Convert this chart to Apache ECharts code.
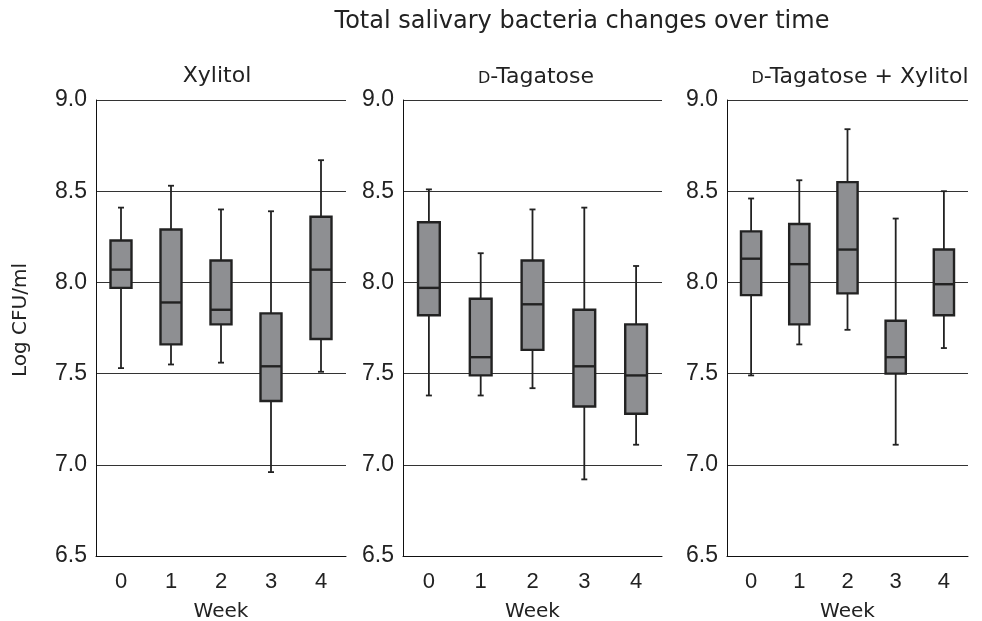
<!DOCTYPE html>
<html>
<head>
<meta charset="utf-8">
<script src="https://cdn.jsdelivr.net/npm/echarts@6/dist/echarts.min.js"></script>
<style>
html,body{margin:0;padding:0;background:#fff;}
#chart{width:982px;height:621px;}
</style>
</head>
<body>
<div id="chart"></div>
<script>
// ---- data (box stats: [min, Q1, median, Q3, max]) ----
const weeks = ['0', '1', '2', '3', '4'];
const yTicks = [6.5, 7.0, 7.5, 8.0, 8.5, 9.0];
const panelTitles = ['Xylitol', '{sc|D}-Tagatose', '{sc|D}-Tagatose + Xylitol'];
const xylitol = [
  [7.53, 7.97, 8.07, 8.23, 8.41],
  [7.55, 7.66, 7.89, 8.29, 8.53],
  [7.56, 7.77, 7.85, 8.12, 8.40],
  [6.96, 7.35, 7.54, 7.83, 8.39],
  [7.51, 7.69, 8.07, 8.36, 8.67]
];
const tagatose = [
  [7.38, 7.82, 7.97, 8.33, 8.51],
  [7.38, 7.49, 7.59, 7.91, 8.16],
  [7.42, 7.63, 7.88, 8.12, 8.40],
  [6.92, 7.32, 7.54, 7.85, 8.41],
  [7.11, 7.28, 7.49, 7.77, 8.09]
];
const tagatoseXylitol = [
  [7.49, 7.93, 8.13, 8.28, 8.46],
  [7.66, 7.77, 8.10, 8.32, 8.56],
  [7.74, 7.94, 8.18, 8.55, 8.84],
  [7.11, 7.50, 7.59, 7.79, 8.35],
  [7.64, 7.82, 7.99, 8.18, 8.50]
];
const groups = [xylitol, tagatose, tagatoseXylitol];

// ---- layout ----
const grids = [
  {left: 96, top: 100, width: 250, height: 456, containLabel: false, outerBoundsMode: 'none'},
  {left: 403, top: 100, width: 259, height: 456, containLabel: false, outerBoundsMode: 'none'},
  {left: 727, top: 100, width: 241, height: 456, containLabel: false, outerBoundsMode: 'none'}
];
const titleCenters = [[217, 76], [536, 77], [860, 77]];

const STROKE = '#222';
const FILL = '#8e8f92';

function renderBox(params, api) {
  const x = api.value(0);
  const lo = api.coord([x, api.value(1)]);
  const q1 = api.coord([x, api.value(2)]);
  const md = api.coord([x, api.value(3)]);
  const q3 = api.coord([x, api.value(4)]);
  const hi = api.coord([x, api.value(5)]);
  const band = api.size([1, 0])[0];
  const bw = band * 0.42;
  const cx = lo[0];
  const cap = 3;
  const wStyle = {stroke: STROKE, lineWidth: 1.8};
  return {
    type: 'group',
    children: [
      {type: 'line', shape: {x1: cx, y1: hi[1], x2: cx, y2: q3[1]}, style: wStyle},
      {type: 'line', shape: {x1: cx, y1: q1[1], x2: cx, y2: lo[1]}, style: wStyle},
      {type: 'line', shape: {x1: cx - cap, y1: hi[1], x2: cx + cap, y2: hi[1]}, style: wStyle},
      {type: 'line', shape: {x1: cx - cap, y1: lo[1], x2: cx + cap, y2: lo[1]}, style: wStyle},
      {type: 'rect', shape: {x: cx - bw / 2, y: q3[1], width: bw, height: q1[1] - q3[1]},
        style: {fill: FILL, stroke: STROKE, lineWidth: 2.4}},
      {type: 'line', shape: {x1: cx - bw / 2, y1: md[1], x2: cx + bw / 2, y2: md[1]},
        style: {stroke: STROKE, lineWidth: 2.4}}
    ]
  };
}

const option = {
  animation: false,
  backgroundColor: '#fff',
  grid: grids,
  xAxis: grids.map((g, i) => ({
    type: 'category',
    gridIndex: i,
    data: weeks,
    boundaryGap: true,
    axisLine: {show: true, lineStyle: {color: '#111', width: 1}},
    axisTick: {show: false},
    axisLabel: {fontFamily: 'Liberation Sans', fontSize: 22, color: '#222', margin: 15},
    name: 'Week',
    nameLocation: 'middle',
    nameGap: 46,
    nameTextStyle: {fontFamily: 'DejaVu Sans', fontSize: 20, color: '#222'},
    splitLine: {show: false}
  })),
  yAxis: grids.map((g, i) => ({
    type: 'value',
    gridIndex: i,
    min: yTicks[0],
    max: yTicks[yTicks.length - 1],
    interval: 0.5,
    axisLine: {show: true, lineStyle: {color: '#111', width: 1}},
    axisTick: {show: false},
    axisLabel: {fontFamily: 'Liberation Sans', fontSize: 23, color: '#222', margin: 9,
      formatter: v => v.toFixed(1)},
    splitLine: {show: true, lineStyle: {color: '#333', width: 1}}
  })),
  graphic: [
    {type: 'text', x: 582, y: 22,
      style: {text: 'Total salivary bacteria changes over time', fill: '#222',
        font: '24px "DejaVu Sans"', textAlign: 'center', textVerticalAlign: 'middle'}},
    {type: 'text', x: 21, y: 320, rotation: Math.PI / 2,
      style: {text: 'Log CFU/ml', fill: '#222',
        font: '20px "DejaVu Sans"', textAlign: 'center', textVerticalAlign: 'middle'}}
  ].concat(panelTitles.map((t, i) => ({
    type: 'text', x: titleCenters[i][0], y: titleCenters[i][1],
    style: {text: t, fill: '#222', font: '22px "DejaVu Sans"',
      fontFamily: 'DejaVu Sans', fontSize: 22,
      textAlign: 'center', textVerticalAlign: 'middle',
      rich: {sc: {fontFamily: 'DejaVu Sans', fontSize: 16, fill: '#222', verticalAlign: 'bottom', padding: [0, 0, 1, 0]}}}
  }))),
  series: groups.map((grp, i) => ({
    type: 'custom',
    xAxisIndex: i,
    yAxisIndex: i,
    renderItem: renderBox,
    encode: {x: 0, y: [1, 2, 3, 4, 5]},
    data: grp.map((s, k) => [k].concat(s)),
    z: 3
  }))
};

const chart = echarts.init(document.getElementById('chart'), null, {renderer: 'canvas'});
chart.setOption(option);
</script>
</body>
</html>
